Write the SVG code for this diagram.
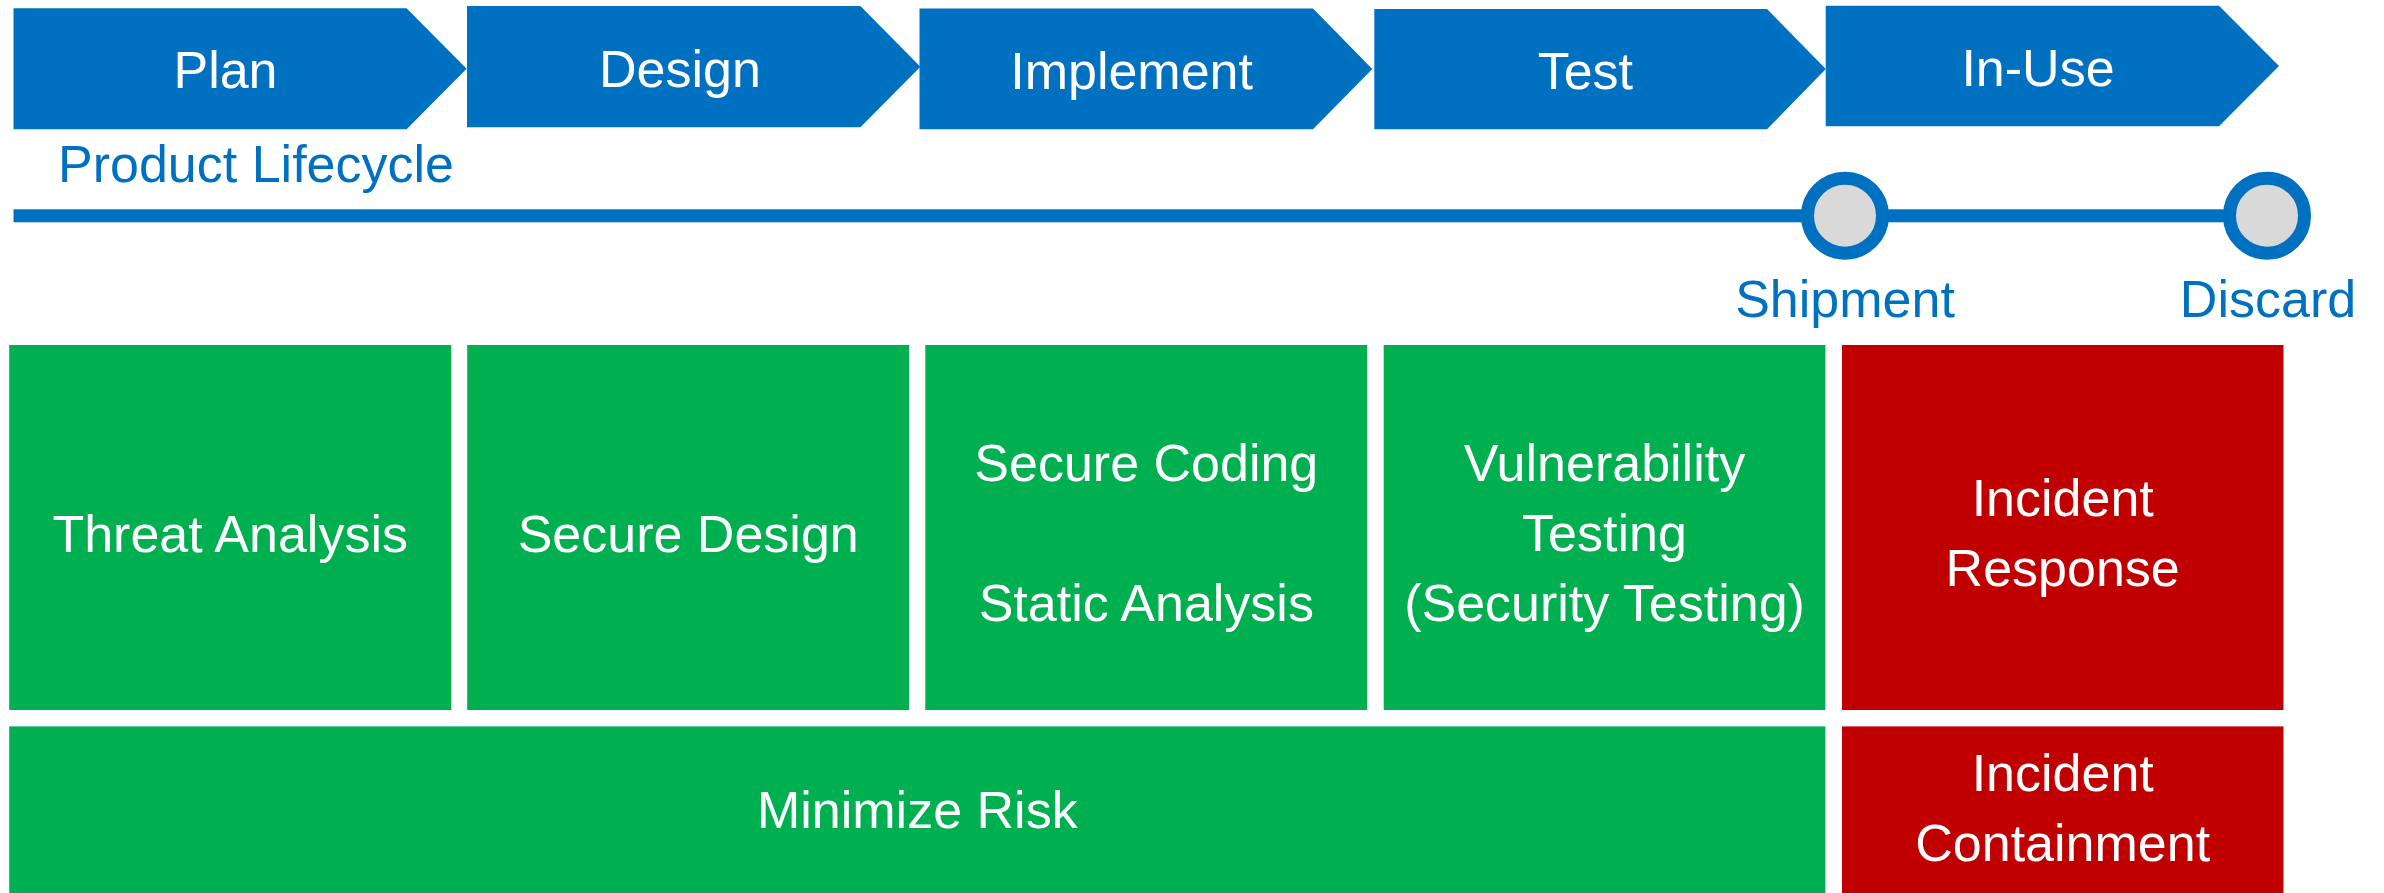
<svg xmlns="http://www.w3.org/2000/svg" width="2384" height="893" viewBox="0 0 2384 893">
  <style>
    .chev { fill: #0070C0; }
    .green { fill: #00B050; }
    .red { fill: #C00000; }
    .lbl { font-family: "Liberation Sans", Arial, sans-serif; font-size: 52px; text-anchor: middle; fill: #FFFFFF; }
    .blue { font-family: "Liberation Sans", Arial, sans-serif; font-size: 52px; fill: #0070C0; }
    .mid { text-anchor: middle; }
    .milestone { fill: #D9D9D9; stroke: #0070C0; stroke-width: 13; }
  </style>
  <rect x="0" y="0" width="2384" height="893" fill="#FFFFFF"/>

  <g id="phase-plan">
    <polygon class="chev" points="13.5,8.3 406.6,8.3 466.6,68.8 406.6,129.3 13.5,129.3"/>
    <text class="lbl" x="225.5" y="88.3">Plan</text>
  </g>
  <g id="phase-design">
    <polygon class="chev" points="467,6 860.4,6 920.4,66.7 860.4,127.3 467,127.3"/>
    <text class="lbl" x="680" y="87.3">Design</text>
  </g>
  <g id="phase-implement">
    <polygon class="chev" points="919.5,8.5 1313,8.5 1372.3,69 1313,129.3 919.5,129.3"/>
    <text class="lbl" x="1131.6" y="89.4">Implement</text>
  </g>
  <g id="phase-test">
    <polygon class="chev" points="1374.3,9 1767,9 1825.8,69 1767,129.3 1374.3,129.3"/>
    <text class="lbl" x="1585.4" y="89.4">Test</text>
  </g>
  <g id="phase-inuse">
    <polygon class="chev" points="1825.7,5.7 2219,5.7 2279,66 2219,126.3 1825.7,126.3"/>
    <text class="lbl" x="2038" y="86">In-Use</text>
  </g>

  <g id="product-lifecycle-label">
    <text class="blue" x="58" y="181.7">Product Lifecycle</text>
  </g>

  <g id="timeline">
    <rect x="13.5" y="209.3" width="2253.5" height="13" fill="#0070C0"/>
  </g>

  <g id="milestone-shipment">
    <circle class="milestone" cx="1845" cy="215.7" r="37.5"/>
    <text class="blue mid" x="1845" y="317.3">Shipment</text>
  </g>
  <g id="milestone-discard">
    <circle class="milestone" cx="2267" cy="215.7" r="37.5"/>
    <text class="blue mid" x="2268" y="317.3">Discard</text>
  </g>

  <g id="threat-analysis">
    <rect class="green" x="9.2" y="345" width="442.1" height="365"/>
    <text class="lbl" x="230.2" y="551.5">Threat Analysis</text>
  </g>
  <g id="secure-design">
    <rect class="green" x="467.2" y="345" width="442" height="365"/>
    <text class="lbl" x="688.2" y="551.5">Secure Design</text>
  </g>
  <g id="secure-coding">
    <rect class="green" x="925.3" y="345" width="441.9" height="365"/>
    <text class="lbl" x="1146.3" y="481.2">Secure Coding</text>
    <text class="lbl" x="1146.3" y="620.7">Static Analysis</text>
  </g>
  <g id="vulnerability-testing">
    <rect class="green" x="1383.7" y="345" width="441.7" height="365"/>
    <text class="lbl" x="1604.5" y="481">Vulnerability</text>
    <text class="lbl" x="1604.5" y="550.8">Testing</text>
    <text class="lbl" x="1604.5" y="621">(Security Testing)</text>
  </g>
  <g id="incident-response">
    <rect class="red" x="1842" y="345" width="441.5" height="365"/>
    <text class="lbl" x="2062.7" y="516">Incident</text>
    <text class="lbl" x="2062.7" y="585.6">Response</text>
  </g>
  <g id="minimize-risk">
    <rect class="green" x="9.2" y="726.4" width="1816.2" height="166.6"/>
    <text class="lbl" x="917.3" y="827.5">Minimize Risk</text>
  </g>
  <g id="incident-containment">
    <rect class="red" x="1842" y="726.4" width="441.5" height="166.6"/>
    <text class="lbl" x="2062.7" y="791.4">Incident</text>
    <text class="lbl" x="2062.7" y="861.4">Containment</text>
  </g>
</svg>
